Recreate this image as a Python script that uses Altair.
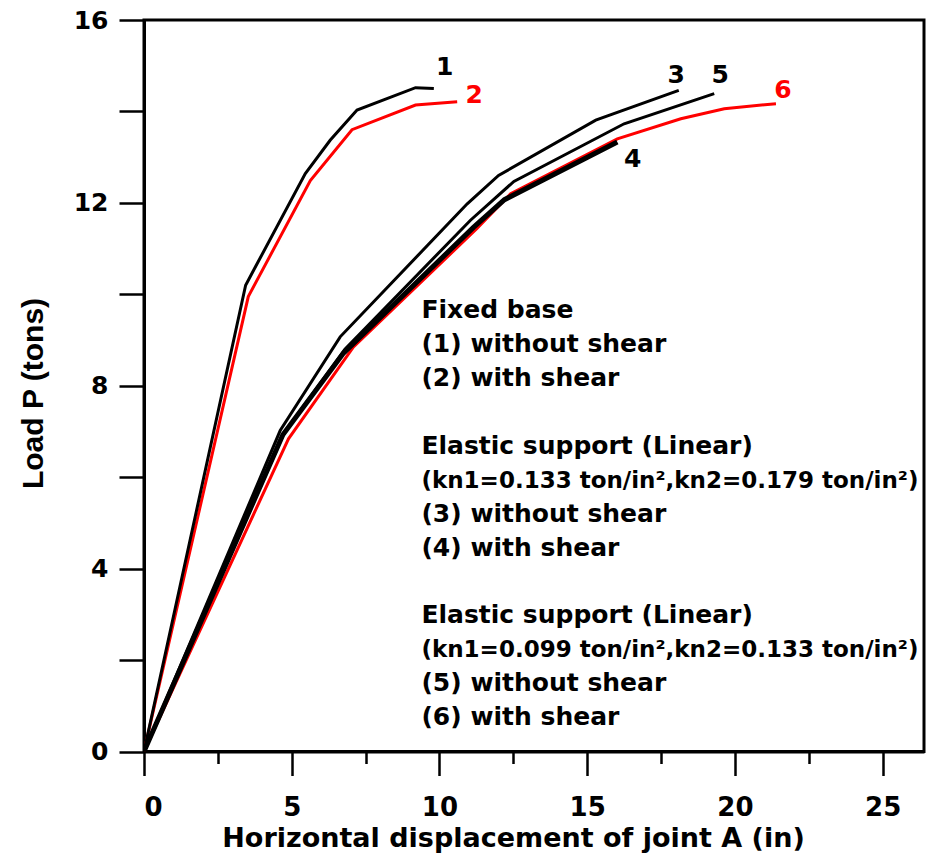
import altair as alt
import pandas as pd

# ---- data ----
x1 = [0, 3.44, 5.46, 6.3, 7.21, 9.19, 9.81]
y1 = [0, 10.2, 12.64, 13.37, 14.03, 14.52, 14.5]
x2 = [0, 3.53, 5.63, 7.04, 9.19, 10.6]
y2 = [0, 9.95, 12.49, 13.6, 14.14, 14.21]
x3 = [0, 4.61, 6.64, 10.94, 12.0, 15.29, 18.1]
y3 = [0, 7.02, 9.07, 11.98, 12.6, 13.81, 14.46]
x4 = [0, 4.7, 6.76, 11.16, 12.2, 16.02]
y4 = [0, 6.93, 8.72, 11.47, 12.07, 13.33]
x5 = [0, 4.75, 6.8, 11.05, 12.52, 16.25, 19.3]
y5 = [0, 6.98, 8.8, 11.62, 12.47, 13.73, 14.39]
x6 = [0, 4.89, 7.09, 11.27, 12.41, 16.02, 18.17, 19.64, 21.39]
y6 = [0, 6.84, 8.85, 11.44, 12.2, 13.4, 13.84, 14.06, 14.17]

curve_ids = ["6", "2", "1", "3", "5", "4"]          # drawing order
curve_x = {"1": x1, "2": x2, "3": x3, "4": x4, "5": x5, "6": x6}
curve_y = {"1": y1, "2": y2, "3": y3, "4": y4, "5": y5, "6": y6}
curve_color = {"1": "#000000", "2": "#ff0000", "3": "#000000",
               "4": "#000000", "5": "#000000", "6": "#ff0000"}
curve_width = {"1": 3, "2": 3, "3": 3, "4": 5, "5": 3, "6": 3}

label_text = ["1", "2", "3", "4", "5", "6"]
label_x = [10.18, 11.18, 18.01, 16.54, 19.5, 21.63]
label_y = [14.8, 14.18, 14.62, 12.78, 14.62, 14.29]
label_color = ["#000000", "#ff0000", "#000000", "#000000", "#000000", "#ff0000"]

legend_lines = [
    "Fixed base",
    "(1) without shear",
    "(2) with shear",
    "",
    "Elastic support (Linear)",
    "(kn1=0.133 ton/in²,kn2=0.179 ton/in²)",
    "(3) without shear",
    "(4) with shear",
    "",
    "Elastic support (Linear)",
    "(kn1=0.099 ton/in²,kn2=0.133 ton/in²)",
    "(5) without shear",
    "(6) with shear",
]
legend_x = 9.39
legend_y0 = 9.475
legend_step = 0.7415   # one line, in load units

x_ticks = [0, 2.5, 5, 7.5, 10, 12.5, 15, 17.5, 20, 22.5, 25]
y_ticks = [0, 2, 4, 6, 8, 10, 12, 14, 16]

FONT = "DejaVu Sans"

x_scale = alt.Scale(domain=[0, 26.4], nice=False, zero=False)
y_scale = alt.Scale(domain=[0, 16], nice=False, zero=False)

x_axis = alt.Axis(
    values=x_ticks,
    labelExpr="datum.value % 5 === 0 ? datum.label : ''",
    tickSize={"condition": {"test": "datum.value % 5 === 0", "value": 24}, "value": 12},
    labelPadding=19,
    labelFont=FONT, labelFontSize=26, labelFontWeight="bold", labelColor="black",
    labelBaseline="top",
    grid=False,
    title="Horizontal displacement of joint A (in)",
    titleFont=FONT, titleFontSize=27, titleFontWeight="bold", titleColor="black",
    titleX=369, titleY=95, titleAlign="center", titleBaseline="alphabetic",
)
y_axis = alt.Axis(
    values=y_ticks,
    labelExpr="datum.value % 4 === 0 ? datum.label : ''",
    tickSize=25,
    labelPadding=11,
    labelFont=FONT, labelFontSize=25, labelFontWeight="bold", labelColor="black",
    grid=False,
    title="Load P (tons)",
    titleFont="Liberation Sans", titleFontSize=30, titleFontWeight="bold", titleColor="black",
    titleAngle=-90, titleX=-102, titleY=373, titleAlign="center", titleBaseline="alphabetic",
)

layers = []
for cid in curve_ids:
    df = pd.DataFrame({"x": curve_x[cid], "y": curve_y[cid],
                       "i": list(range(len(curve_x[cid])))})
    layers.append(
        alt.Chart(df).mark_line(color=curve_color[cid], strokeWidth=curve_width[cid],
                                strokeJoin="miter", clip=True)
        .encode(x=alt.X("x:Q", scale=x_scale, axis=x_axis),
                y=alt.Y("y:Q", scale=y_scale, axis=y_axis),
                order="i:Q")
    )

lab_df = pd.DataFrame({"x": label_x, "y": label_y, "t": label_text, "c": label_color})
layers.append(
    alt.Chart(lab_df).mark_text(font=FONT, fontSize=25, fontWeight="bold",
                                align="center", baseline="alphabetic")
    .encode(x=alt.X("x:Q", scale=x_scale, axis=x_axis),
            y=alt.Y("y:Q", scale=y_scale, axis=y_axis),
            text="t:N",
            color=alt.Color("c:N", scale=None))
)

leg_df = pd.DataFrame({
    "t": legend_lines,
    "i": list(range(len(legend_lines))),
})
leg_df["x"] = legend_x
leg_df["y"] = legend_y0 - leg_df["i"] * legend_step
leg_df["fs"] = [23 if s.startswith("(kn") else 25 for s in legend_lines]
leg_df = leg_df[leg_df["t"] != ""]
layers.append(
    alt.Chart(leg_df).mark_text(font=FONT, fontWeight="bold",
                                align="left", baseline="alphabetic", color="black")
    .encode(x=alt.X("x:Q", scale=x_scale, axis=x_axis),
            y=alt.Y("y:Q", scale=y_scale, axis=y_axis),
            text="t:N",
            size=alt.Size("fs:Q", scale=None, legend=None))
)

chart = alt.layer(*layers).properties(
    width=780, height=731.5,
    padding={"left": 136, "top": 12, "right": 3, "bottom": 101},
    autosize="none",
    background="white",
).configure_view(
    stroke="black", strokeWidth=3
).configure_axis(
    domainColor="black", domainWidth=3, tickColor="black", tickWidth=2.5,
)

chart.save("out.html", embed_options={"renderer": "svg", "actions": False})
